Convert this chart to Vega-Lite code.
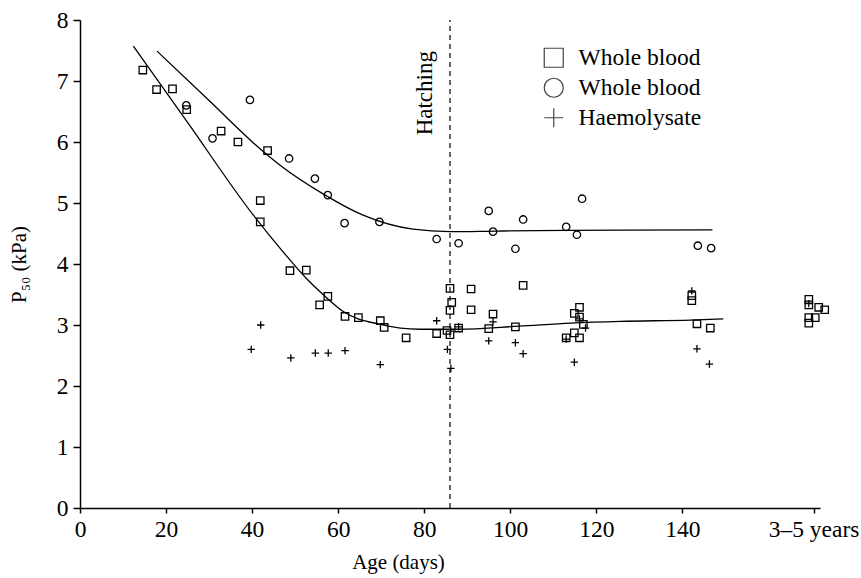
{
  "$schema": "https://vega.github.io/schema/vega-lite/v6.json",
  "width": 740,
  "height": 488,
  "autosize": "none",
  "padding": {"left": 80, "top": 20, "right": 41, "bottom": 70},
  "background": "white",
  "config": {
    "font": "Liberation Serif",
    "view": {"stroke": null},
    "axis": {"grid": false, "domainColor": "black", "tickColor": "black", "labelColor": "black", "titleColor": "black", "domainWidth": 1.5, "tickWidth": 1.5, "labelFont": "Liberation Serif", "titleFont": "Liberation Serif", "titleFontWeight": "normal"},
    "legend": {"labelFont": "Liberation Serif"}
  },
  "datasets": {
    "points": [
      {"type": "Whole blood (square)", "day": 14.6, "p50": 7.18},
      {"type": "Whole blood (square)", "day": 17.8, "p50": 6.86},
      {"type": "Whole blood (square)", "day": 21.5, "p50": 6.87},
      {"type": "Whole blood (square)", "day": 24.8, "p50": 6.53},
      {"type": "Whole blood (square)", "day": 32.8, "p50": 6.18},
      {"type": "Whole blood (square)", "day": 36.7, "p50": 6.0},
      {"type": "Whole blood (square)", "day": 43.6, "p50": 5.86},
      {"type": "Whole blood (square)", "day": 41.9, "p50": 5.04},
      {"type": "Whole blood (square)", "day": 41.9, "p50": 4.69},
      {"type": "Whole blood (square)", "day": 48.8, "p50": 3.89},
      {"type": "Whole blood (square)", "day": 52.6, "p50": 3.9},
      {"type": "Whole blood (square)", "day": 57.6, "p50": 3.47},
      {"type": "Whole blood (square)", "day": 55.7, "p50": 3.33},
      {"type": "Whole blood (square)", "day": 61.6, "p50": 3.14},
      {"type": "Whole blood (square)", "day": 64.7, "p50": 3.12},
      {"type": "Whole blood (square)", "day": 69.8, "p50": 3.07},
      {"type": "Whole blood (square)", "day": 70.7, "p50": 2.96},
      {"type": "Whole blood (square)", "day": 75.8, "p50": 2.79},
      {"type": "Whole blood (square)", "day": 86.0, "p50": 3.6},
      {"type": "Whole blood (square)", "day": 90.9, "p50": 3.59},
      {"type": "Whole blood (square)", "day": 103.0, "p50": 3.65},
      {"type": "Whole blood (square)", "day": 86.4, "p50": 3.37},
      {"type": "Whole blood (square)", "day": 86.0, "p50": 3.24},
      {"type": "Whole blood (square)", "day": 90.9, "p50": 3.25},
      {"type": "Whole blood (square)", "day": 96.0, "p50": 3.18},
      {"type": "Whole blood (square)", "day": 82.9, "p50": 2.86},
      {"type": "Whole blood (square)", "day": 85.3, "p50": 2.91},
      {"type": "Whole blood (square)", "day": 86.0, "p50": 2.84},
      {"type": "Whole blood (square)", "day": 88.0, "p50": 2.95},
      {"type": "Whole blood (square)", "day": 95.0, "p50": 2.94},
      {"type": "Whole blood (square)", "day": 101.2, "p50": 2.97},
      {"type": "Whole blood (square)", "day": 116.1, "p50": 3.29},
      {"type": "Whole blood (square)", "day": 114.9, "p50": 3.19},
      {"type": "Whole blood (square)", "day": 116.1, "p50": 3.13},
      {"type": "Whole blood (square)", "day": 117.0, "p50": 3.01},
      {"type": "Whole blood (square)", "day": 113.0, "p50": 2.79},
      {"type": "Whole blood (square)", "day": 114.9, "p50": 2.87},
      {"type": "Whole blood (square)", "day": 116.1, "p50": 2.79},
      {"type": "Whole blood (square)", "day": 142.2, "p50": 3.4},
      {"type": "Whole blood (square)", "day": 142.2, "p50": 3.48},
      {"type": "Whole blood (square)", "day": 143.4, "p50": 3.02},
      {"type": "Whole blood (square)", "day": 146.5, "p50": 2.95},
      {"type": "Whole blood (square)", "day": 169.4, "p50": 3.42},
      {"type": "Whole blood (square)", "day": 169.4, "p50": 3.33},
      {"type": "Whole blood (square)", "day": 171.7, "p50": 3.29},
      {"type": "Whole blood (square)", "day": 173.1, "p50": 3.25},
      {"type": "Whole blood (square)", "day": 169.4, "p50": 3.12},
      {"type": "Whole blood (square)", "day": 170.9, "p50": 3.12},
      {"type": "Whole blood (square)", "day": 169.4, "p50": 3.03},
      {"type": "Whole blood (circle)", "day": 24.7, "p50": 6.6},
      {"type": "Whole blood (circle)", "day": 39.5, "p50": 6.69},
      {"type": "Whole blood (circle)", "day": 30.8, "p50": 6.06},
      {"type": "Whole blood (circle)", "day": 48.6, "p50": 5.73},
      {"type": "Whole blood (circle)", "day": 54.6, "p50": 5.4},
      {"type": "Whole blood (circle)", "day": 57.6, "p50": 5.13},
      {"type": "Whole blood (circle)", "day": 61.5, "p50": 4.67},
      {"type": "Whole blood (circle)", "day": 69.6, "p50": 4.69},
      {"type": "Whole blood (circle)", "day": 82.9, "p50": 4.41},
      {"type": "Whole blood (circle)", "day": 88.0, "p50": 4.34},
      {"type": "Whole blood (circle)", "day": 96.0, "p50": 4.53},
      {"type": "Whole blood (circle)", "day": 101.2, "p50": 4.25},
      {"type": "Whole blood (circle)", "day": 95.0, "p50": 4.87},
      {"type": "Whole blood (circle)", "day": 103.0, "p50": 4.73},
      {"type": "Whole blood (circle)", "day": 113.0, "p50": 4.61},
      {"type": "Whole blood (circle)", "day": 115.5, "p50": 4.48},
      {"type": "Whole blood (circle)", "day": 116.7, "p50": 5.07},
      {"type": "Whole blood (circle)", "day": 143.6, "p50": 4.3},
      {"type": "Whole blood (circle)", "day": 146.7, "p50": 4.26},
      {"type": "Haemolysate", "day": 42.0, "p50": 3.0},
      {"type": "Haemolysate", "day": 39.8, "p50": 2.6},
      {"type": "Haemolysate", "day": 49.0, "p50": 2.46},
      {"type": "Haemolysate", "day": 54.7, "p50": 2.54},
      {"type": "Haemolysate", "day": 57.7, "p50": 2.54},
      {"type": "Haemolysate", "day": 61.6, "p50": 2.58},
      {"type": "Haemolysate", "day": 69.8, "p50": 2.35},
      {"type": "Haemolysate", "day": 82.9, "p50": 3.07},
      {"type": "Haemolysate", "day": 85.4, "p50": 2.6},
      {"type": "Haemolysate", "day": 86.2, "p50": 2.29},
      {"type": "Haemolysate", "day": 88.0, "p50": 2.97},
      {"type": "Haemolysate", "day": 96.0, "p50": 3.05},
      {"type": "Haemolysate", "day": 95.0, "p50": 2.74},
      {"type": "Haemolysate", "day": 101.2, "p50": 2.71},
      {"type": "Haemolysate", "day": 103.0, "p50": 2.53},
      {"type": "Haemolysate", "day": 116.1, "p50": 3.1},
      {"type": "Haemolysate", "day": 117.5, "p50": 2.95},
      {"type": "Haemolysate", "day": 113.0, "p50": 2.77},
      {"type": "Haemolysate", "day": 114.9, "p50": 2.39},
      {"type": "Haemolysate", "day": 142.2, "p50": 3.56},
      {"type": "Haemolysate", "day": 143.4, "p50": 2.61},
      {"type": "Haemolysate", "day": 146.3, "p50": 2.36},
      {"type": "Haemolysate", "day": 169.4, "p50": 3.35}
    ],
    "curves": [
      {"curve": "lower", "day": 12.4, "p50": 7.57},
      {"curve": "lower", "day": 25.0, "p50": 6.32},
      {"curve": "lower", "day": 40.3, "p50": 4.8},
      {"curve": "lower", "day": 47.2, "p50": 4.2},
      {"curve": "lower", "day": 52.8, "p50": 3.75},
      {"curve": "lower", "day": 56.5, "p50": 3.5},
      {"curve": "lower", "day": 61.2, "p50": 3.22},
      {"curve": "lower", "day": 69.8, "p50": 3.01},
      {"curve": "lower", "day": 79.0, "p50": 2.93},
      {"curve": "lower", "day": 88.0, "p50": 2.93},
      {"curve": "lower", "day": 102.0, "p50": 2.98},
      {"curve": "lower", "day": 114.0, "p50": 3.03},
      {"curve": "lower", "day": 125.6, "p50": 3.06},
      {"curve": "lower", "day": 141.9, "p50": 3.08},
      {"curve": "lower", "day": 149.5, "p50": 3.1},
      {"curve": "upper", "day": 17.9, "p50": 7.49},
      {"curve": "upper", "day": 30.0, "p50": 6.68},
      {"curve": "upper", "day": 41.5, "p50": 5.91},
      {"curve": "upper", "day": 46.5, "p50": 5.62},
      {"curve": "upper", "day": 56.5, "p50": 5.15},
      {"curve": "upper", "day": 65.8, "p50": 4.8},
      {"curve": "upper", "day": 77.4, "p50": 4.57},
      {"curve": "upper", "day": 86.0, "p50": 4.53},
      {"curve": "upper", "day": 96.9, "p50": 4.54},
      {"curve": "upper", "day": 113.0, "p50": 4.55},
      {"curve": "upper", "day": 147.0, "p50": 4.56}
    ],
    "hatch": [{"day": 86.0, "label": "Hatching", "labelDay": 80.2, "labelY": 6.8}]
  },
  "layer": [
    {
      "data": {"name": "hatch"},
      "mark": {"type": "rule", "strokeDash": [5, 4], "strokeWidth": 1.2, "color": "black"},
      "encoding": {
        "x": {"field": "day", "type": "quantitative"},
        "y": {"datum": 0, "type": "quantitative"},
        "y2": {"datum": 8}
      }
    },
    {
      "data": {"name": "hatch"},
      "mark": {"type": "text", "angle": 270, "align": "center", "baseline": "middle", "fontSize": 23, "font": "Liberation Serif", "color": "black"},
      "encoding": {
        "x": {"field": "labelDay", "type": "quantitative"},
        "y": {"field": "labelY", "type": "quantitative"},
        "text": {"field": "label"}
      }
    },
    {
      "data": {"name": "curves"},
      "mark": {"type": "line", "interpolate": "monotone", "color": "black", "strokeWidth": 1.3},
      "encoding": {
        "x": {"field": "day", "type": "quantitative"},
        "y": {"field": "p50", "type": "quantitative"},
        "detail": {"field": "curve"}
      }
    },
    {
      "data": {"name": "points"},
      "mark": {"type": "point", "filled": false, "color": "black", "strokeWidth": 1.3, "size": 55, "opacity": 1},
      "encoding": {
        "x": {
          "field": "day", "type": "quantitative",
          "scale": {"domain": [0, 172], "nice": false, "zero": false},
          "axis": {
            "title": "Age (days)", "titleFontSize": 21, "titleX": 318, "titlePadding": 11,
            "values": [0, 20, 40, 60, 80, 100, 120, 140, 170.5],
            "labelExpr": "datum.value > 160 ? '3–5 years' : datum.label",
            "labelFontSize": 23.5, "tickSize": 5, "labelPadding": 4, "labelFlush": false, "labelOverlap": false
          }
        },
        "y": {
          "field": "p50", "type": "quantitative",
          "scale": {"domain": [0, 8], "nice": false},
          "axis": {
            "title": "P₅₀ (kPa)", "titleFontSize": 21, "titlePadding": 27,
            "values": [0, 1, 2, 3, 4, 5, 6, 7, 8], "format": "d",
            "labelFontSize": 23.5, "tickSize": 7, "labelPadding": 5, "labelFlush": false
          }
        },
        "shape": {
          "field": "type", "type": "nominal",
          "scale": {
            "domain": ["Whole blood (square)", "Whole blood (circle)", "Haemolysate"],
            "range": ["square", "circle", "M-1,0H1M0,-1V1"]
          },
          "legend": {
            "title": null, "orient": "none", "legendX": 462, "legendY": 26,
            "labelExpr": "datum.value === 'Haemolysate' ? 'Haemolysate' : 'Whole blood'",
            "labelFontSize": 23.5, "labelColor": "black", "labelOffset": 13,
            "symbolSize": 361, "symbolStrokeWidth": 1.2, "symbolStrokeColor": "#444", "symbolFillColor": "transparent",
            "rowPadding": 5, "padding": 0,
            "encode": {"symbols": {"update": {"size": {"signal": "datum.value === 'Haemolysate' ? 140 : 361"}}}}
          }
        }
      }
    }
  ]
}
